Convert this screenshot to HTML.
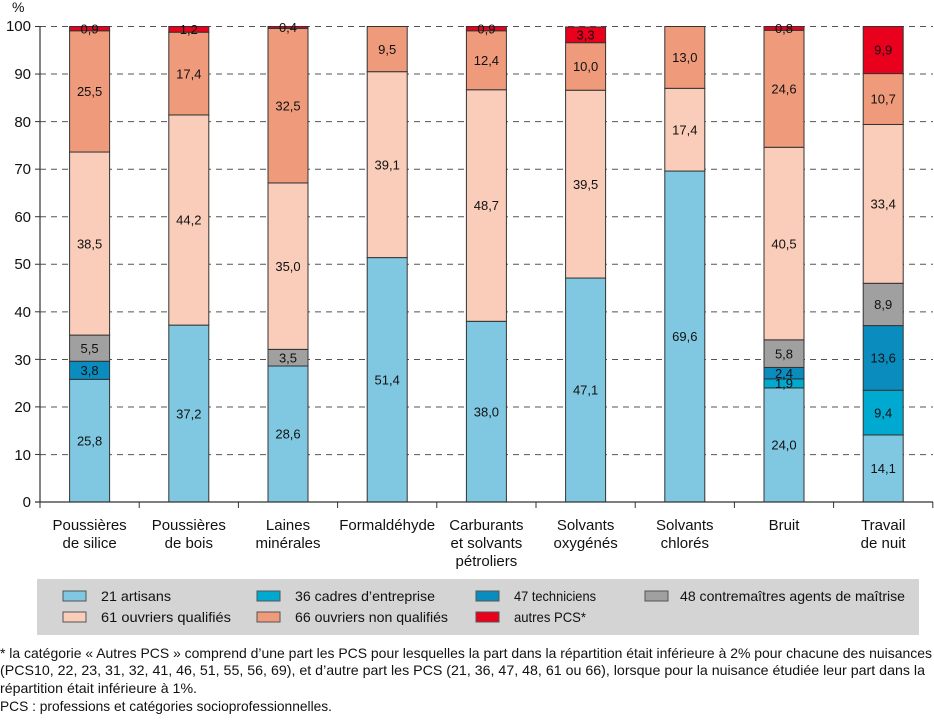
<!DOCTYPE html>
<html><head><meta charset="utf-8"><style>
body{margin:0;background:#fff}
svg text{font-family:"Liberation Sans",sans-serif;fill:#111}
</style></head><body>
<svg width="934" height="715" viewBox="0 0 934 715" xmlns="http://www.w3.org/2000/svg">
<g stroke="#555" stroke-width="1" stroke-dasharray="6,5">
<line x1="40" x2="933" y1="26.5" y2="26.5"/><line x1="40" x2="933" y1="74" y2="74"/><line x1="40" x2="933" y1="121.6" y2="121.6"/><line x1="40" x2="933" y1="169.2" y2="169.2"/><line x1="40" x2="933" y1="216.8" y2="216.8"/><line x1="40" x2="933" y1="264.3" y2="264.3"/><line x1="40" x2="933" y1="311.9" y2="311.9"/><line x1="40" x2="933" y1="359.5" y2="359.5"/><line x1="40" x2="933" y1="407" y2="407"/><line x1="40" x2="933" y1="454.6" y2="454.6"/>
</g>
<g id="bars" stroke="#333" stroke-width="1"></g>
<g stroke="#333" stroke-width="1.2">
<line x1="40" x2="40" y1="26" y2="502"/><line x1="35" x2="933" y1="502" y2="502"/>
</g>
<g id="ticks" stroke="#333"></g>
<g font-size="15" text-anchor="end">
<text x="31" y="31">100</text><text x="31" y="79">90</text><text x="31" y="127">80</text><text x="31" y="174">70</text><text x="31" y="222">60</text><text x="31" y="269">50</text><text x="31" y="317">40</text><text x="31" y="365">30</text><text x="31" y="412">20</text><text x="31" y="460">10</text><text x="31" y="507">0</text>
</g>
<text x="12" y="12" font-size="14">%</text>
<g id="cats" font-size="15" text-anchor="middle"></g>
<rect x="37" y="579" width="882" height="56" fill="#d4d4d4"/>
<g stroke="#555" stroke-width="1">
<rect x="63" y="591" width="23" height="10" fill="#80c8e2"/><rect x="63" y="612" width="23" height="10" fill="#f9cdb9"/>
<rect x="257" y="591" width="23" height="10" fill="#00a9d0"/><rect x="257" y="612" width="23" height="10" fill="#ef9b7b"/>
<rect x="476" y="591" width="23" height="10" fill="#0a8dbe"/><rect x="476" y="612" width="23" height="10" fill="#e8001c"/>
<rect x="645" y="591" width="23" height="10" fill="#a0a0a0"/>
</g>
<g font-size="14">
<text x="101" y="601" textLength="70" lengthAdjust="spacingAndGlyphs">21 artisans</text>
<text x="101" y="622" textLength="130" lengthAdjust="spacingAndGlyphs">61 ouvriers  qualifiés</text>
<text x="295" y="601" textLength="140" lengthAdjust="spacingAndGlyphs">36 cadres d’entreprise</text>
<text x="295" y="622" textLength="153" lengthAdjust="spacingAndGlyphs">66 ouvriers non qualifiés</text>
<text x="514" y="601" textLength="82" lengthAdjust="spacingAndGlyphs">47 techniciens</text>
<text x="514" y="622" textLength="72" lengthAdjust="spacingAndGlyphs">autres PCS*</text>
<text x="680" y="601" textLength="225" lengthAdjust="spacingAndGlyphs">48 contremaîtres agents de maîtrise</text>
</g>
<g font-size="14">
<text x="0" y="658" textLength="932" lengthAdjust="spacingAndGlyphs">* la catégorie « Autres PCS » comprend d’une part les PCS pour lesquelles la part dans la répartition était inférieure à 2% pour chacune des nuisances</text>
<text x="0" y="675" textLength="925" lengthAdjust="spacingAndGlyphs">(PCS10, 22, 23, 31, 32, 41, 46, 51, 55, 56, 69), et d’autre part les PCS (21, 36, 47, 48, 61 ou 66), lorsque pour la nuisance étudiée leur part dans la</text>
<text x="0" y="693" textLength="197" lengthAdjust="spacingAndGlyphs">répartition était inférieure à 1%.</text>
<text x="0" y="711" textLength="332" lengthAdjust="spacingAndGlyphs">PCS : professions et catégories socioprofessionnelles.</text>
</g>
</svg>
<script>
const colors=["#80c8e2","#00a9d0","#0a8dbe","#a0a0a0","#f9cdb9","#ef9b7b","#e8001c"];
const data=[[25.8,0,3.8,5.5,38.5,25.5,0.9],[37.2,0,0,0,44.2,17.4,1.2],[28.6,0,0,3.5,35.0,32.5,0.4],[51.4,0,0,0,39.1,9.5,0],[38.0,0,0,0,48.7,12.4,0.9],[47.1,0,0,0,39.5,10.0,3.3],[69.6,0,0,0,17.4,13.0,0],[24.0,1.9,2.4,5.8,40.5,24.6,0.8],[14.1,9.4,13.6,8.9,33.4,10.7,9.9]];
const cats=[["Poussières","de silice"],["Poussières","de bois"],["Laines","minérales"],["Formaldéhyde"],["Carburants","et solvants","pétroliers"],["Solvants","oxygénés"],["Solvants","chlorés"],["Bruit"],["Travail","de nuit"]];
const NS="http://www.w3.org/2000/svg";
const bars=document.getElementById("bars"),ticks=document.getElementById("ticks"),cg=document.getElementById("cats");
const Y=v=>502-4.755*v;
function el(t,a,p,txt){const e=document.createElementNS(NS,t);for(const k in a)e.setAttribute(k,a[k]);if(txt!=null)e.textContent=txt;p.appendChild(e);return e;}
const labels=document.createElementNS(NS,"g");
data.forEach((d,i)=>{const cx=89.6+i*99.2;let cum=0;
 d.forEach((v,j)=>{if(!v)return;const y1=Y(cum),y2=Y(cum+v);
  el("rect",{x:cx-20,y:y2,width:40,height:y1-y2,fill:colors[j]},bars);
  el("text",{x:cx,y:(y1+y2)/2+4.7,"font-size":13,"text-anchor":"middle"},labels,v.toFixed(1).replace(".",","));
  cum+=v;});
 cats[i].forEach((l,k)=>el("text",{x:cx,y:530+k*18},cg,l));
});
document.querySelector("svg").appendChild(labels);
for(let i=0;i<=9;i++){const x=40+i*99.2;el("line",{x1:x,x2:x,y1:502,y2:508},ticks);}
for(let i=0;i<=10;i++){el("line",{x1:35,x2:40,y1:Y(i*10),y2:Y(i*10)},ticks);}
</script>
</body></html>
